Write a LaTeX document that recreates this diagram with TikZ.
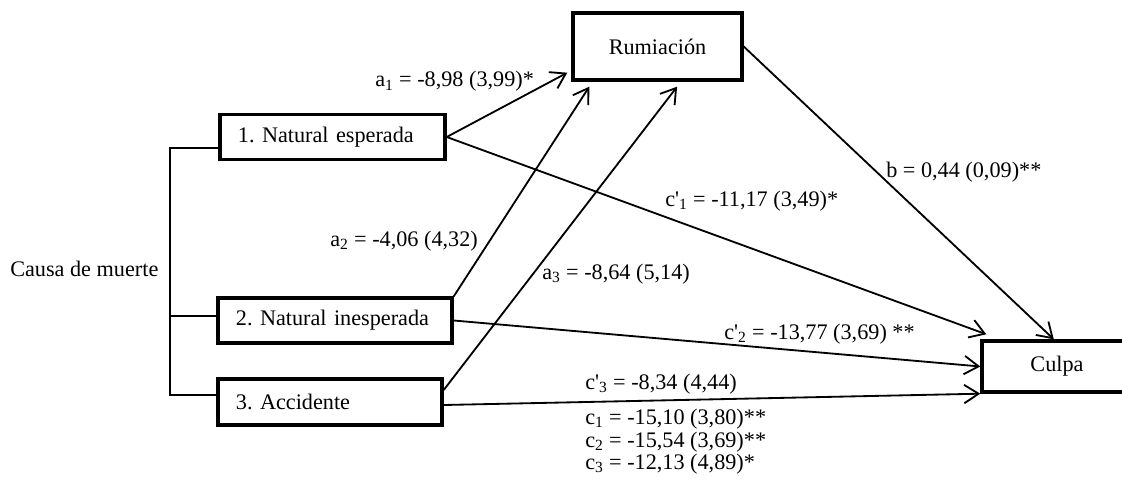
\documentclass[tikz,border=0pt]{standalone}
\usepackage{fontspec}
\setmainfont{Liberation Serif}
\usetikzlibrary{arrows.meta}
\frenchspacing

\begin{document}
\begin{tikzpicture}[x=0.025cm, y=-0.025cm,
        font=\fontsize{15.8}{16.2}\selectfont,
        >={Straight Barb[length=3.6mm,width=4.6mm]},
        box/.style={rectangle, draw, line width=2.4pt, minimum height=1.12cm, inner xsep=0.45cm},
        arrow/.style={->, line width=1.3pt},
        lbl/.style={inner sep=0pt, anchor=base west}]

    \useasboundingbox (0,0) rectangle (1122,486);

        % causes
        \node[box, 
        text width=4.725cm,
        align=left] (nat1) at (332.5,137) {1. Natural esperada};
        \node[box, 
        text width=4.95cm,
        align=left] (nat2) at (335,320.5) {2. Natural inesperada};
        \node[box, 
        text width=4.7cm,
        align=left,
        minimum height=1.15cm] (acc) at (330,402) {3. Accidente};
        \node[lbl] (causa) at (10,276) {Causa de muerte};

        % mediator and outcome
        \node[box, 
        minimum width=4.225cm,
        minimum height=1.675cm] (rum) at (657.5,46.5) {Rumiación};
        \node[box, 
        minimum width=3.75cm,
        minimum height=1.275cm] (culpa) at (1057,366.5) {Culpa};

        \draw [line width=1.3pt] ([yshift=-0.275cm]nat1.west) -- ++(-48,0) |- ([yshift=0.175cm]acc.west);
        \draw [line width=1.3pt] ([yshift=0.11cm]nat2.west) -- ++(-46,0);

        \draw [arrow] (nat1.east) to ([shift={(-0.1cm,0.225cm)}]rum.south west);
        \draw [arrow] (nat2.north east) to ([shift={(0.45cm,-0.125cm)}]rum.south west);
        \draw [arrow] ([yshift=0.3cm]acc.east) to ([shift={(0.49cm,-0.125cm)}]rum.south);
        \draw [arrow] (rum.east) to ([xshift=-0.08cm]culpa.north);
        \draw [arrow] (nat1.east) to ([shift={(0.15cm,0.125cm)}]culpa.north west);
        \draw [arrow] (nat2.east) to (culpa.west);
        \draw [arrow] ([yshift=-0.075cm]acc.east) to (culpa.south west);

        % coefficients
        \node[lbl] (la1) at (375,87) {a\textsubscript{1} = -8,98 (3,99)*};
        \node[lbl] (la2) at (330,246) {a\textsubscript{2} = -4,06 (4,32)};
        \node[lbl] (la3) at (542,279) {a\textsubscript{3} = -8,64 (5,14)};
        \node[lbl] (lb) at (886,177) {b = 0,44 (0,09)**};
        \node[lbl] (lc1) at (665,206) {c\textquotesingle\textsubscript{1} = -11,17 (3,49)*};
        \node[lbl] (lc2) at (724,339) {c\textquotesingle\textsubscript{2} = -13,77 (3,69) **};
        \node[lbl] (lc3) at (585,389) {c\textquotesingle\textsubscript{3} = -8,34 (4,44)};
        \node[lbl] (tc1) at (585,424) {c\textsubscript{1} = -15,10 (3,80)**};
        \node[lbl] (tc2) at (585,447) {c\textsubscript{2} = -15,54 (3,69)**};
        \node[lbl] (tc3) at (585,469) {c\textsubscript{3} = -12,13 (4,89)*};

\end{tikzpicture}
\end{document}
